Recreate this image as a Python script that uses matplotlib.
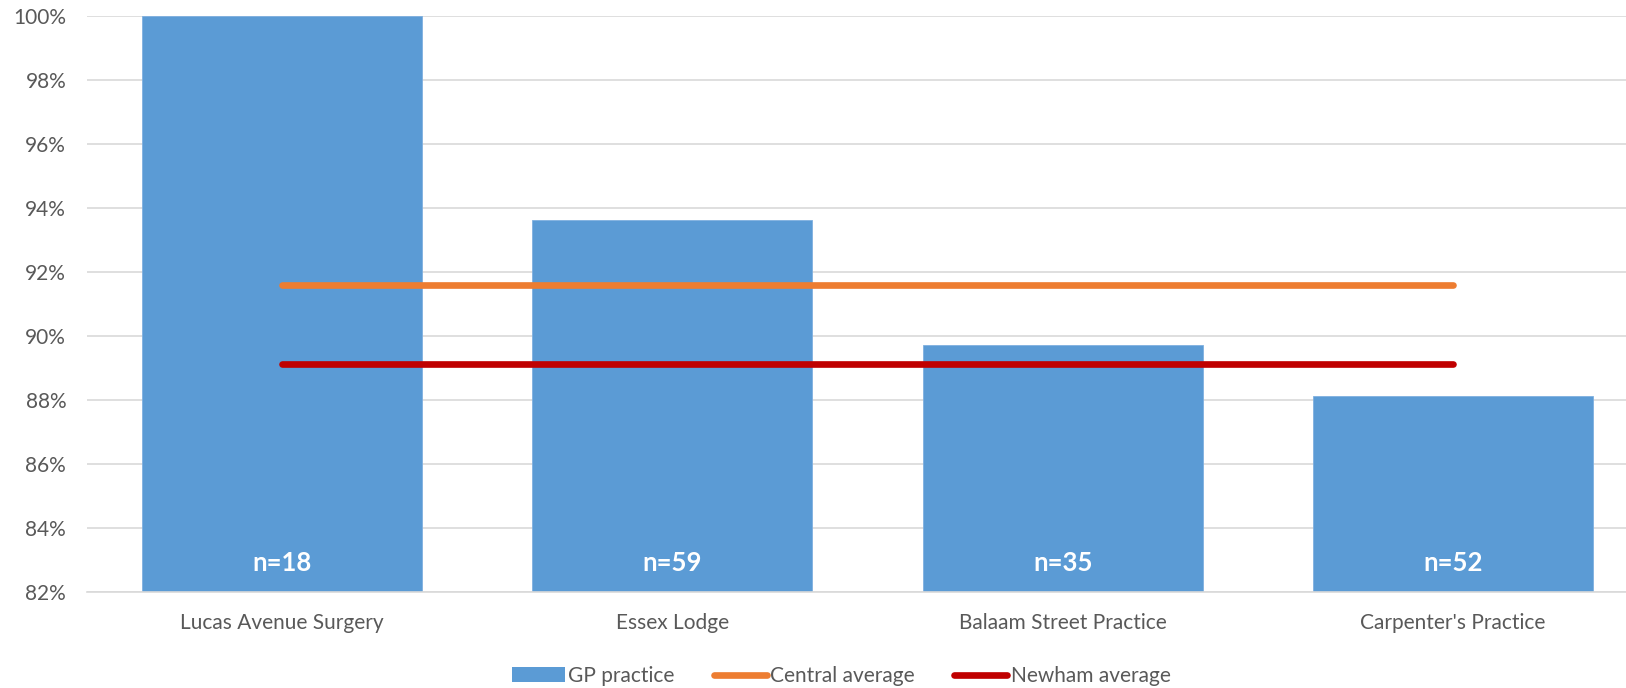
import matplotlib
matplotlib.use("Agg")
import matplotlib.pyplot as plt
from matplotlib.patches import Patch
from matplotlib.lines import Line2D
from matplotlib.ticker import FuncFormatter

plt.rcParams['font.family'] = ['Lato', 'DejaVu Sans']

categories = ["Lucas Avenue Surgery", "Essex Lodge", "Balaam Street Practice", "Carpenter's Practice"]
gp_practice = [1.00, 0.9363, 0.8973, 0.8813]
sample_sizes = [18, 59, 35, 52]
central_average = [0.9159, 0.9159, 0.9159, 0.9159]
newham_average = [0.8912, 0.8912, 0.8912, 0.8912]
y_ticks = [0.82, 0.84, 0.86, 0.88, 0.90, 0.92, 0.94, 0.96, 0.98, 1.00]

W, H = 1626, 688
fig = plt.figure(figsize=(W / 100, H / 100), dpi=100)
left_px, right_px, top_px, bottom_px = 87, 1648, 16, 592
ax = fig.add_axes([left_px / W, 1 - bottom_px / H, (right_px - left_px) / W, (bottom_px - top_px) / H])

x = list(range(len(categories)))
ax.bar(x, [v - 0.82 for v in gp_practice], bottom=0.82, width=0.717, color="#5B9BD5",
       edgecolor="#7FB0E0", linewidth=0.6, zorder=2)
ax.plot(x, central_average, color="#ED7D31", linewidth=4.8, solid_capstyle="round", zorder=3)
ax.plot(x, newham_average, color="#C00000", linewidth=4.8, solid_capstyle="round", zorder=3)

for xi, n in zip(x, sample_sizes):
    ax.text(xi, 0.8291, f"n={n}", ha="center", va="center", color="white",
            fontsize=18.5, fontweight="bold", zorder=4)

ax.set_xlim(-0.5, 3.5)
ax.set_ylim(0.82, 1.00)
ax.set_yticks(y_ticks)
ax.yaxis.set_major_formatter(FuncFormatter(lambda v, p: f"{round(v * 100)}%"))
ax.set_xticks(x)
ax.set_xticklabels(categories)
ax.tick_params(axis="both", length=0, colors="#595959", labelsize=15)
ax.tick_params(axis="y", pad=15)
ax.tick_params(axis="x", pad=15)
ax.grid(axis="y", color="#D9D9D9", linewidth=1.2, zorder=0)
ax.set_axisbelow(True)
for s in ["top", "right", "left"]:
    ax.spines[s].set_visible(False)
ax.spines["bottom"].set_color("#D9D9D9")
ax.spines["bottom"].set_linewidth(1.2)

handles = [
    Patch(facecolor="#5B9BD5", edgecolor="none", label="GP practice"),
    Line2D([0], [0], color="#ED7D31", linewidth=4.8, solid_capstyle="round", label="Central average"),
    Line2D([0], [0], color="#C00000", linewidth=4.8, solid_capstyle="round", label="Newham average"),
]
leg = fig.legend(handles=handles, loc="center", bbox_to_anchor=(841 / W, 1 - 676 / H), ncol=3,
                 frameon=False, fontsize=15, handlelength=2.55, handletextpad=0.15,
                 columnspacing=1.9, labelcolor="#595959", borderpad=0)

fig.savefig("out.png", dpi=100)
